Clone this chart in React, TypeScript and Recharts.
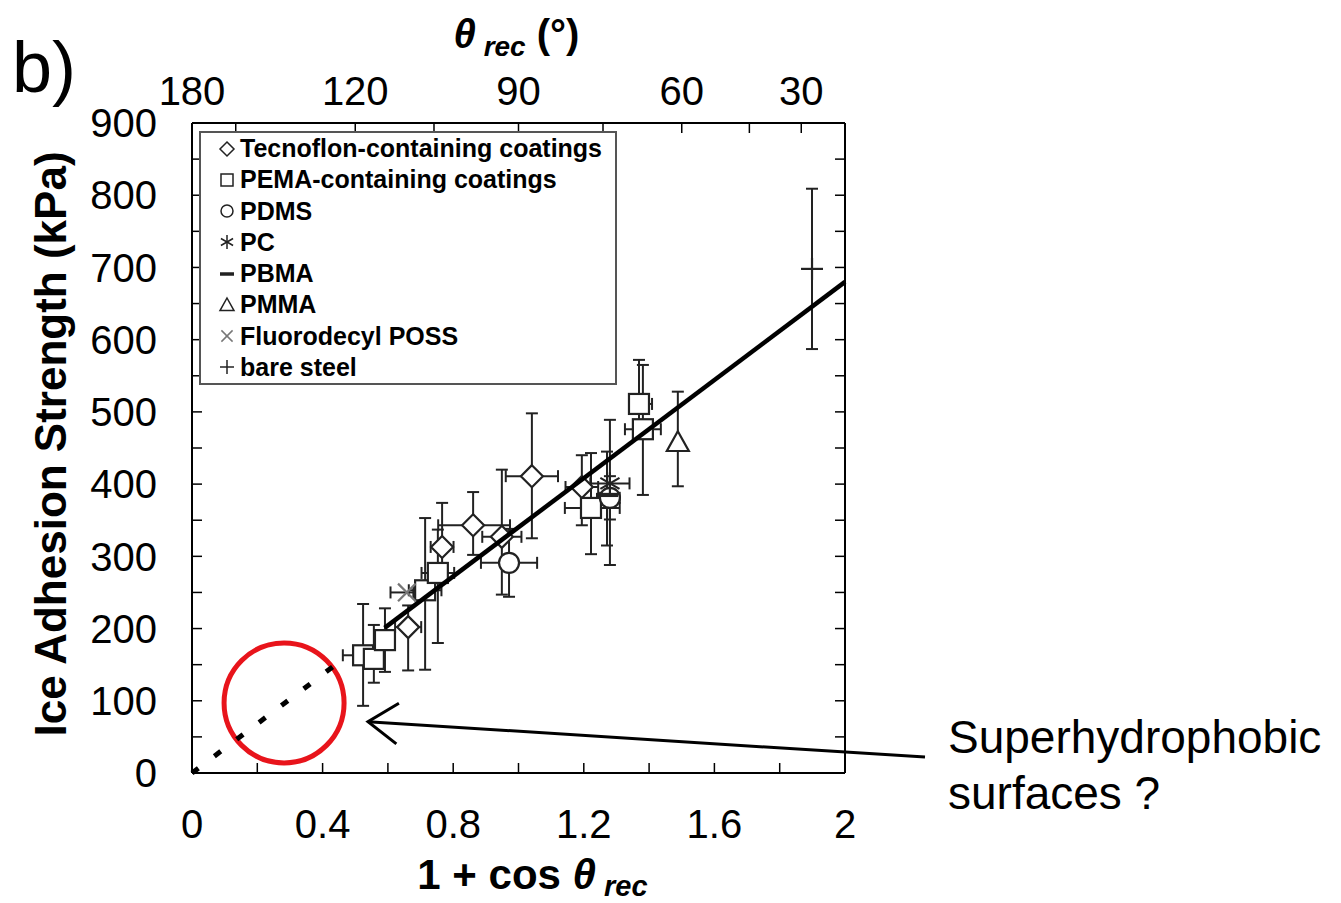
import React from "react";
import {
  ScatterChart,
  Scatter,
  XAxis,
  YAxis,
  ErrorBar,
  ReferenceDot,
  ReferenceLine,
  Legend,
  Label,
} from "recharts";

const FONT = '"Liberation Sans", Arial, Helvetica, sans-serif';

// each row: [1 + cos θ, strength kPa, x err low, x err high, y err low, y err high]
type Row = [number, number, number, number, number, number];

const tecnoflon: Row[] = [
  [0.662, 202, 0.04, 0.04, 60, 30],
  [0.766, 313, 0.035, 0.035, 50, 61],
  [0.861, 343, 0.107, 0.113, 41, 46],
  [0.949, 327, 0.06, 0.06, 80, 93],
  [1.041, 411, 0.08, 0.08, 86, 87],
  [1.194, 396, 0.05, 0.05, 53, 44],
];
const pema: Row[] = [
  [0.524, 163, 0.062, 0.03, 70, 71],
  [0.557, 158, 0, 0, 33, 47],
  [0.591, 184, 0.03, 0.03, 44, 44],
  [0.714, 253, 0.05, 0.05, 110, 100],
  [0.753, 277, 0.05, 0.05, 97, 60],
  [1.222, 367, 0.08, 0.088, 64, 76],
  [1.369, 511, 0, 0.04, 40, 61],
  [1.381, 476, 0.055, 0.055, 91, 89],
];
const pdms: Row[] = [
  [0.971, 291, 0.086, 0.086, 47, 47],
  [1.28, 381, 0.03, 0.03, 30, 30],
];
const pc: Row[] = [[1.28, 401, 0.06, 0.06, 113, 88]];
const pbma: Row[] = [[1.271, 385, 0, 0, 70, 60]];
const pmma: Row[] = [[1.488, 458, 0, 0, 61, 70]];
const poss: Row[] = [[0.658, 250, 0.05, 0.02, 0, 0]];
const bareSteel: Row[] = [[1.899, 698, 0, 0, 111, 111]];

// linear fit, dashed extrapolation toward the origin
const fitDashed = [
  [0, 0],
  [0.44, 150],
];
const fitSolid = [
  [0.59, 201],
  [2, 680],
];

const xTicks = [0, 0.2, 0.4, 0.6, 0.8, 1, 1.2, 1.4, 1.6, 1.8, 2];
const xTickLabels = ["0", "", "0.4", "", "0.8", "", "1.2", "", "1.6", "", "2"];
const yTicks = [0, 50, 100, 150, 200, 250, 300, 350, 400, 450, 500, 550, 600, 650, 700, 750, 800, 850, 900];
const yTickLabels = ["0", "", "100", "", "200", "", "300", "", "400", "", "500", "", "600", "", "700", "", "800", "", "900"];
const thetaTicks = [180, 150, 120, 105, 90, 75, 60, 45, 30];
const thetaTickLabels = ["180", "", "120", "", "90", "", "60", "", "30"];

// annotation anchors (data space)
const circleCenter = { x: 0.282, y: 97 };
const arrowSegment = [
  { x: 0.539, y: 71 },
  { x: 2.245, y: 22 },
];

type Kind = "diamond" | "square" | "circle" | "asterisk" | "dash" | "triangle" | "cross" | "plus";

const series: { name: string; kind: Kind; rows: Row[] }[] = [
  { name: "Tecnoflon-containing coatings", kind: "diamond", rows: tecnoflon },
  { name: "PEMA-containing coatings", kind: "square", rows: pema },
  { name: "PDMS", kind: "circle", rows: pdms },
  { name: "PC", kind: "asterisk", rows: pc },
  { name: "PBMA", kind: "dash", rows: pbma },
  { name: "PMMA", kind: "triangle", rows: pmma },
  { name: "Fluorodecyl POSS", kind: "cross", rows: poss },
  { name: "bare steel", kind: "plus", rows: bareSteel },
];

const toPoints = (rows: Row[]) =>
  rows.map(([x, y, exl, exh, eyl, eyh]) => ({
    x,
    y,
    ex: exl || exh ? [exl, exh] : null,
    ey: eyl || eyh ? [eyl, eyh] : null,
  }));

const toLine = (pts: number[][]) => pts.map(([x, y]) => ({ x, y }));

function Marker({ kind, cx, cy, s = 11, sw = 2.2 }: { kind: Kind; cx: number; cy: number; s?: number; sw?: number }) {
  const stroke = kind === "cross" ? "#777" : "#222";
  const common = { fill: "#fff", stroke, strokeWidth: sw };
  switch (kind) {
    case "diamond":
      return <polygon points={`${cx},${cy - s} ${cx + s},${cy} ${cx},${cy + s} ${cx - s},${cy}`} {...common} />;
    case "square":
      return <rect x={cx - s + 1} y={cy - s + 1} width={2 * s - 2} height={2 * s - 2} {...common} />;
    case "circle":
      return <circle cx={cx} cy={cy} r={s - 1} {...common} />;
    case "triangle":
      return <polygon points={`${cx},${cy - s} ${cx + s},${cy + s * 0.8} ${cx - s},${cy + s * 0.8}`} {...common} />;
    case "dash":
      return <line x1={cx - s} y1={cy} x2={cx + s} y2={cy} stroke={stroke} strokeWidth={sw + 2} />;
    case "plus":
      return (
        <g stroke={stroke} strokeWidth={sw}>
          <line x1={cx - s} y1={cy} x2={cx + s} y2={cy} />
          <line x1={cx} y1={cy - s} x2={cx} y2={cy + s} />
        </g>
      );
    case "cross": {
      const d = s * 0.8;
      return (
        <g stroke={stroke} strokeWidth={sw}>
          <line x1={cx - d} y1={cy - d} x2={cx + d} y2={cy + d} />
          <line x1={cx - d} y1={cy + d} x2={cx + d} y2={cy - d} />
        </g>
      );
    }
    case "asterisk": {
      const a = s * 0.87;
      const b = s * 0.5;
      return (
        <g stroke={stroke} strokeWidth={sw}>
          <line x1={cx} y1={cy - s} x2={cx} y2={cy + s} />
          <line x1={cx - a} y1={cy - b} x2={cx + a} y2={cy + b} />
          <line x1={cx - a} y1={cy + b} x2={cx + a} y2={cy - b} />
        </g>
      );
    }
  }
  return <g />;
}

const renderLegend = () => (
  <div
    style={{
      border: "2px solid #555",
      boxSizing: "border-box",
      width: 418,
      height: 254,
      background: "#fff",
      paddingLeft: 16,
      fontFamily: FONT,
      fontWeight: 700,
      fontSize: 25,
      color: "#000",
    }}
  >
    {series.map((s) => (
      <div key={s.name} style={{ display: "flex", alignItems: "center", height: 31.25 }}>
        <svg width={20} height={20} style={{ marginRight: 3 }}>
          <Marker kind={s.kind} cx={10} cy={10} s={7} sw={1.5} />
        </svg>
        <span style={{ lineHeight: 1 }}>{s.name}</span>
      </div>
    ))}
  </div>
);

const YTitle = (props: any) => {
  const vb = props.viewBox;
  const cx = vb.x - 52;
  const cy = vb.y + vb.height / 2 - 4;
  return (
    <text
      x={cx}
      y={cy}
      transform={`rotate(-90, ${cx}, ${cy})`}
      textAnchor="middle"
      dominantBaseline="central"
      fontFamily={FONT}
      fontWeight="bold"
      fontSize={44}
      fill="#000"
    >
      Ice Adhesion Strength (kPa)
    </text>
  );
};

const BottomTitle = (props: any) => {
  const vb = props.viewBox;
  return (
    <text
      x={vb.x + vb.width / 2 + 14}
      y={vb.y + 116}
      textAnchor="middle"
      fontFamily={FONT}
      fontWeight="bold"
      fontSize={42}
      fill="#000"
    >
      1 + cos <tspan fontStyle="italic">θ</tspan>
      <tspan fontStyle="italic" fontSize={29} dy={7}>
        {" rec"}
      </tspan>
    </text>
  );
};

const TopTitle = (props: any) => {
  const vb = props.viewBox;
  return (
    <text
      x={vb.x + vb.width / 2 - 2}
      y={vb.y - 15}
      textAnchor="middle"
      fontFamily={FONT}
      fontWeight="bold"
      fontSize={40}
      fill="#000"
    >
      <tspan fontStyle="italic">θ</tspan>
      <tspan fontStyle="italic" fontSize={28} dy={8}>
        {" rec"}
      </tspan>
      <tspan dy={-8}>{" (°)"}</tspan>
    </text>
  );
};

const ArrowShape = (props: any) => {
  const { x1, y1, x2, y2 } = props;
  const ang = Math.atan2(y2 - y1, x2 - x1);
  const len = 36;
  const spread = 0.6;
  return (
    <g>
      <line x1={x1} y1={y1} x2={x2} y2={y2} stroke="#000" strokeWidth={3} />
      <polyline
        points={`${x1 + len * Math.cos(ang - spread)},${y1 + len * Math.sin(ang - spread)} ${x1},${y1} ${
          x1 + len * Math.cos(ang + spread)
        },${y1 + len * Math.sin(ang + spread)}`}
        fill="none"
        stroke="#000"
        strokeWidth={3}
      />
      <text x={x2 + 23} y={y2 - 4} fontFamily={FONT} fontSize={46} fill="#000">
        Superhydrophobic
      </text>
      <text x={x2 + 23} y={y2 + 52} fontFamily={FONT} fontSize={46} fill="#000">
        surfaces ?
      </text>
    </g>
  );
};

const axisLine = { stroke: "#000", strokeWidth: 2 };
const tickLine = { stroke: "#000", strokeWidth: 1.5 };
const tickFont = { fontSize: 40, fill: "#000", fontFamily: FONT };

export default function App() {
  return (
    <div style={{ position: "absolute", left: 0, top: 0, width: 1341, height: 903, background: "#fff" }}>
      <ScatterChart width={1341} height={903} margin={{ top: 63, right: 486, bottom: 70, left: 102 }}>
        <XAxis
          type="number"
          dataKey="x"
          domain={[0, 2]}
          ticks={xTicks}
          interval={0}
          tickFormatter={(_v: number, i: number) => xTickLabels[i]}
          height={60}
          tickSize={-10}
          tickMargin={47}
          axisLine={axisLine}
          tickLine={tickLine}
          tick={tickFont}
        >
          <Label content={BottomTitle} />
        </XAxis>
        <XAxis
          xAxisId="top"
          orientation="top"
          type="number"
          dataKey="x"
          domain={[0, 2]}
          ticks={thetaTicks.map((t) => 1 + Math.cos((t * Math.PI) / 180))}
          interval={0}
          tickFormatter={(_v: number, i: number) => thetaTickLabels[i]}
          height={60}
          tickSize={-10}
          tickMargin={28}
          axisLine={axisLine}
          tickLine={tickLine}
          tick={tickFont}
        >
          <Label content={TopTitle} />
        </XAxis>
        <YAxis
          type="number"
          dataKey="y"
          domain={[0, 900]}
          ticks={yTicks}
          interval={0}
          tickFormatter={(_v: number, i: number) => yTickLabels[i]}
          width={90}
          tickSize={-10}
          tickMargin={45}
          axisLine={axisLine}
          tickLine={tickLine}
          tick={tickFont}
        >
          <Label content={YTitle} />
        </YAxis>
        <YAxis
          yAxisId="right"
          orientation="right"
          type="number"
          dataKey="y"
          domain={[0, 900]}
          ticks={yTicks}
          interval={0}
          tickFormatter={() => ""}
          width={10}
          tickSize={-10}
          axisLine={axisLine}
          tickLine={tickLine}
        />
        <Legend
          content={renderLegend}
          layout="horizontal"
          verticalAlign="middle"
          align="center"
          wrapperStyle={{ left: 199, top: 131, width: 418, height: 254 }}
        />
        <ReferenceDot
          x={circleCenter.x}
          y={circleCenter.y}
          r={60}
          fill="none"
          stroke="#e8141b"
          strokeWidth={5}
        />
        <Scatter
          data={toLine(fitDashed)}
          xAxisId="top"
          yAxisId="right"
          line={{ stroke: "#000", strokeWidth: 5, strokeDasharray: "8 20" }}
          shape={() => <g />}
          legendType="none"
          isAnimationActive={false}
        />
        {series.map((s) => (
          <Scatter
            key={s.name}
            name={s.name}
            data={toPoints(s.rows)}
            shape={(p: any) => <Marker kind={s.kind} cx={p.cx} cy={p.cy} />}
            isAnimationActive={false}
          >
            <ErrorBar dataKey="ey" direction="y" width={6} stroke="#222" strokeWidth={2} isAnimationActive={false} />
            <ErrorBar dataKey="ex" direction="x" width={6} stroke="#222" strokeWidth={2} isAnimationActive={false} />
          </Scatter>
        ))}
        <Scatter
          data={toLine(fitSolid)}
          xAxisId="top"
          yAxisId="right"
          line={{ stroke: "#000", strokeWidth: 4.5 }}
          shape={() => <g />}
          legendType="none"
          isAnimationActive={false}
        />
        <ReferenceLine segment={arrowSegment} ifOverflow="visible" shape={ArrowShape} />
      </ScatterChart>
      <div style={{ position: "absolute", left: 12, top: 31, fontSize: 72, lineHeight: 1, fontFamily: FONT }}>b)</div>
    </div>
  );
}
